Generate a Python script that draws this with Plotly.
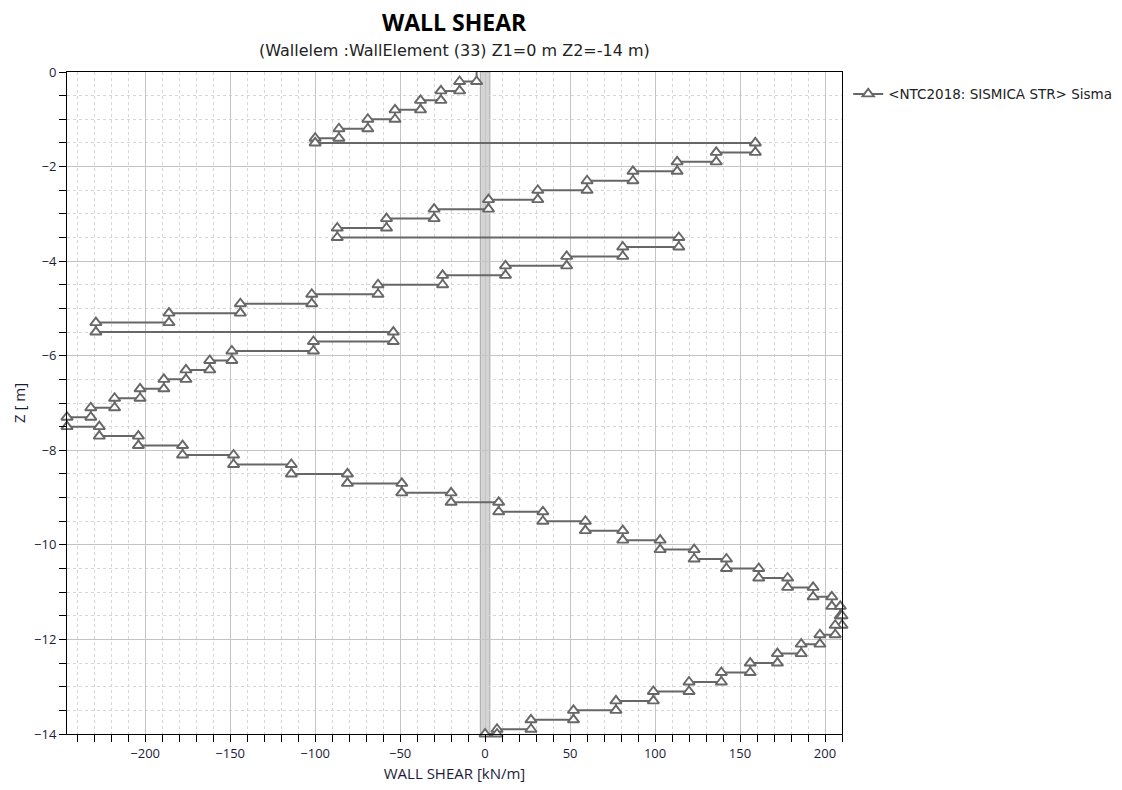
import plotly.graph_objects as go

# Element boundaries along the wall (m)
z_nodes = [0.0, -0.2, -0.4, -0.6, -0.8, -1.0, -1.2, -1.4, -1.5, -1.7, -1.9, -2.1,
           -2.3, -2.5, -2.7, -2.9, -3.1, -3.3, -3.5, -3.7, -3.9, -4.1, -4.3, -4.5,
           -4.7, -4.9, -5.1, -5.3, -5.5, -5.7, -5.9, -6.1, -6.3, -6.5, -6.7, -6.9,
           -7.1, -7.3, -7.5, -7.7, -7.9, -8.1, -8.3, -8.5, -8.7, -8.9, -9.1, -9.3,
           -9.5, -9.7, -9.9, -10.1, -10.3, -10.5, -10.7, -10.9, -11.1, -11.3, -11.5,
           -11.7, -11.9, -12.1, -12.3, -12.5, -12.7, -12.9, -13.1, -13.3, -13.5,
           -13.7, -13.9, -14.0]

# Shear in each element, top to bottom (kN/m)
shear = [-5, -15, -26, -38, -53, -69, -86, -100,
         159, 136, 113, 87, 60, 31, 2, -30, -58, -87,
         114, 81, 48, 12, -25, -63, -102, -144, -186, -229,
         -54, -101, -149, -162, -176, -189, -203, -218, -232, -246,
         -227, -204, -178, -148, -114, -81, -49, -20, 8, 34, 59, 81,
         103, 123, 142, 161, 178, 193, 204, 209, 210, 206, 197, 186,
         172, 156, 139, 120, 99, 77, 52, 27, 7]

base_shear = 0.0
series_name = "<NTC2018: SISMICA STR> Sisma"

# Step profile: constant value along each element, jumps at the nodes
xs, ys = [], []
for i, v in enumerate(shear):
    xs += [v, v]
    ys += [z_nodes[i], z_nodes[i + 1]]
xs.append(base_shear)
ys.append(z_nodes[-1])

# no symbol on the wall head point
sizes = [10] * len(xs)
sizes[0] = 0

line_col = "#676767"
text_col = "#1c1c3a"
font_fam = "Open Sans, Noto Sans, sans-serif"
wide_fam = "DejaVu Sans, Verdana, sans-serif"

fig = go.Figure()
fig.add_trace(go.Scatter(
    x=xs, y=ys, mode="lines+markers", name=series_name,
    line=dict(color=line_col, width=2),
    marker=dict(symbol="triangle-up", size=sizes, color="white", opacity=1,
                line=dict(color=line_col, width=1.9)),
    cliponaxis=False,
))

# Wall axis band at zero shear
fig.add_shape(type="rect", xref="x", yref="paper", x0=-2.8, x1=2.8, y0=0, y1=1,
              fillcolor="#d4d4d4", line=dict(color="#a8a8a8", width=1), layer="between")

fig.update_layout(
    width=1122, height=790,
    margin=dict(l=67, r=280, t=72, b=56, autoexpand=False),
    paper_bgcolor="white", plot_bgcolor="white",
    font=dict(family=font_fam, size=13, color=text_col),
    showlegend=True,
    legend=dict(x=1.008, y=0.99, xanchor="left", yanchor="top",
                bgcolor="rgba(0,0,0,0)", font=dict(size=13.5, color="#222222", family=wide_fam)),
    annotations=[
        dict(text="<b>WALL SHEAR</b>", xref="paper", yref="paper", x=0.5, y=1.0755,
             xanchor="center", yanchor="middle", showarrow=False,
             font=dict(size=23, color="black", family=font_fam)),
        dict(text="(Wallelem :WallElement (33) Z1=0 m Z2=-14 m)", xref="paper", yref="paper",
             x=0.5, y=1.033, xanchor="center", yanchor="middle", showarrow=False,
             font=dict(size=16, color="#222222", family=wide_fam)),
    ],
)

fig.update_xaxes(
    range=[min(xs), max(xs)], tick0=0, dtick=50,
    showline=True, linecolor="black", linewidth=1, mirror=True,
    ticks="outside", ticklen=7, tickcolor="black",
    showgrid=True, gridcolor="#c4c4c4", gridwidth=1, zeroline=False,
    minor=dict(dtick=10, ticks="outside", ticklen=7, tickcolor="black",
               showgrid=True, gridcolor="#d6d6d6", griddash="dot"),
    title=dict(text="WALL SHEAR [kN/m]", standoff=7, font=dict(size=15, color=text_col)),
    tickfont=dict(size=13, color=text_col),
)
fig.update_yaxes(
    range=[-14, 0], tick0=0, dtick=2,
    showline=True, linecolor="black", linewidth=1, mirror=True,
    ticks="outside", ticklen=7, tickcolor="black",
    showgrid=True, gridcolor="#c4c4c4", gridwidth=1, zeroline=False,
    minor=dict(dtick=0.5, ticks="outside", ticklen=7, tickcolor="black",
               showgrid=True, gridcolor="#d6d6d6", griddash="dot"),
    title=dict(text="Z [ m]", standoff=4, font=dict(size=15, color=text_col)),
    tickfont=dict(size=13, color=text_col),
)

fig.write_html("out.html")
